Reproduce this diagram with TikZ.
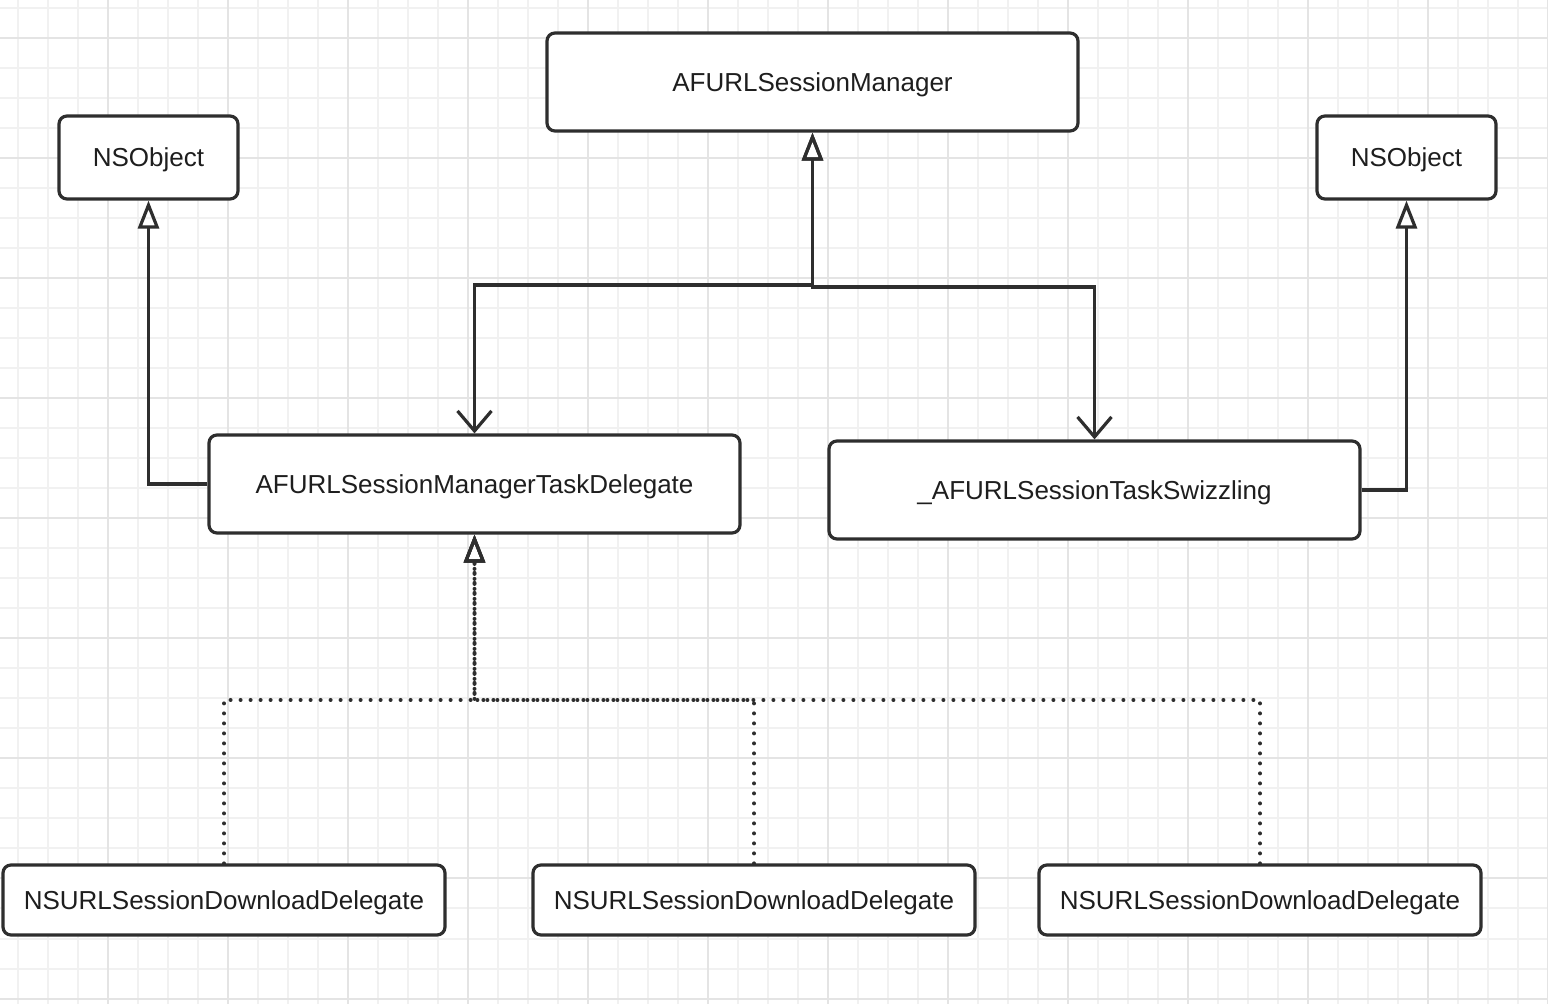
\documentclass[tikz,border=0pt]{standalone}
\usepackage{fontspec}
\setmainfont{Liberation Sans}
\usetikzlibrary{arrows.meta}

\definecolor{inkgray}{HTML}{2E2E2E}
\definecolor{textgray}{HTML}{1E1E1E}
\definecolor{gridminor}{HTML}{F1F1F1}
\definecolor{gridmajor}{HTML}{E4E4E4}

\begin{document}
\begin{tikzpicture}[x=0.5pt, y=-0.5pt, every node/.style={text=textgray}]

\def\busA{285}
\def\busB{287}
\def\busC{700}

% ---------- tlo: siatka ----------
\useasboundingbox (0,0) rectangle (1548,1004);
\fill[white] (0,0) rectangle (1548,1004);
\foreach \gx in {18,48,...,1548} {
  \draw[gridminor, line width=1pt] (\gx,0) -- (\gx,1004);
}
\foreach \gy in {8.5,38.5,...,1004} {
  \draw[gridminor, line width=1pt] (0,\gy) -- (1548,\gy);
}
\foreach \gx in {108,228,...,1548} {
  \draw[gridmajor, line width=1pt] (\gx,0) -- (\gx,1004);
}
\foreach \gy in {38.5,158.5,...,1004} {
  \draw[gridmajor, line width=1pt] (0,\gy) -- (1548,\gy);
}

% ---------- style ----------
\tikzset{
  classbox/.style={
    draw=inkgray,
    line width=1.6pt,
    rounded corners=4pt,
    fill=white,
    inner sep=0pt,
    text height=10.5pt,
    text depth=1pt,
    font=\fontsize{13pt}{15pt}\selectfont
  },
  widebox/.style={classbox, minimum width=265.5pt, minimum height=49pt},
  smallbox/.style={classbox, minimum width=89.5pt, minimum height=41.5pt},
  leafbox/.style={classbox, minimum width=221pt, minimum height=35pt},
  inherit/.style={
    -{Triangle[open, length=14pt, width=10.5pt]},
    draw=inkgray,
    line width=1.6pt
  },
  assoc/.style={
    {Triangle[open, length=14pt, width=10.5pt]}-{Straight Barb[length=10pt, width=17pt]},
    draw=inkgray,
    line width=1.6pt
  },
  realize/.style={
    -{Triangle[open, length=14pt, width=10.5pt, line width=1.6pt]},
    draw=inkgray,
    line width=2pt,
    line cap=round,
    dash pattern=on 0pt off 5pt
  }
}

% ---------- klasy ----------
\node[widebox]  (mgr)     at (812.5, 82)  {AFURLSessionManager};
\node[smallbox] (objL)    at (148.5, 157.5) {NSObject};
\node[smallbox] (objR)    at (1406.5, 157.5) {NSObject};
\node[widebox]  (taskdel) at (474.5, 484) {AFURLSessionManagerTaskDelegate};
\node[widebox]  (swizz)   at (1094.5, 490) {\_AFURLSessionTaskSwizzling};
\node[leafbox]  (dl1)     at (224, 900)  {NSURLSessionDownloadDelegate};
\node[leafbox]  (dl2)     at (754, 900)  {NSURLSessionDownloadDelegate};
\node[leafbox]  (dl3)     at (1260, 900) {NSURLSessionDownloadDelegate};

\coordinate (busTopL) at (0, \busA);
\coordinate (busTopR) at (0, \busB);
\coordinate (busLow)  at (0, \busC);

% ---------- dziedziczenie ----------
\draw[inherit] (taskdel.west) -| (objL.south);
\draw[inherit] (swizz.east) -| (objR.south);

% ---------- powiazania z managerem ----------
\draw[assoc] (mgr.south) -- (mgr.south |- busTopL) -| (taskdel.north);
\draw[assoc] (mgr.south) -- (mgr.south |- busTopR) -| (swizz.north);

% ---------- realizacje (kropkowane) ----------
\foreach \d in {dl1, dl2, dl3} {
  \draw[realize] (\d.north) -- (\d.north |- busLow) -| (taskdel.south);
}

\end{tikzpicture}
\end{document}
